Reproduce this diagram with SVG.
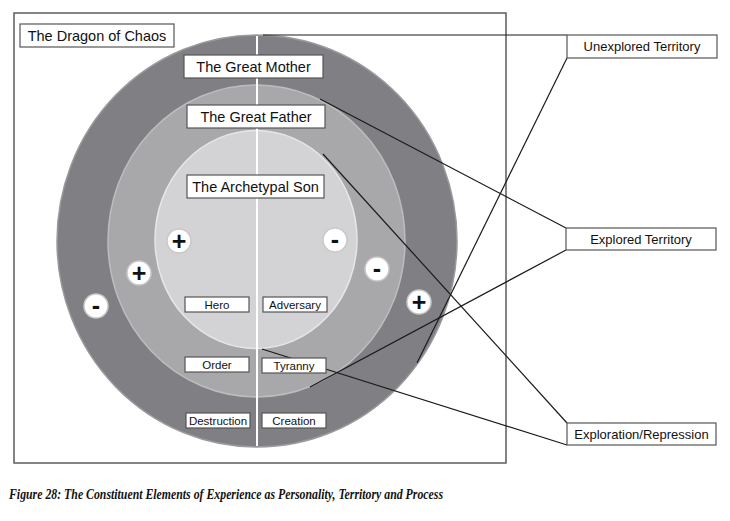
<svg xmlns="http://www.w3.org/2000/svg" width="730" height="521" viewBox="0 0 730 521">
<style>
.box{fill:#fff;stroke:#555;stroke-width:1.2}
.t{font-family:"Liberation Sans",Arial,sans-serif;fill:#111;text-anchor:middle}
.big{font-size:14.5px}
.mid{font-size:13px}
.sm{font-size:11.5px}
.pm{fill:#fff;stroke:#c8c8c8;stroke-width:1.5}
.sym{font-family:"Liberation Sans",Arial,sans-serif;font-weight:bold;font-size:25px;fill:#111;text-anchor:middle}
.con line{stroke:#1a1a1a;stroke-width:1.2}
</style>
<rect x="0" y="0" width="730" height="521" fill="#fff"/>
<rect id="frame" x="14" y="13" width="492" height="450" fill="#fff" stroke="#666" stroke-width="1.6"/>
<g id="rings">
<ellipse id="outer" cx="257" cy="241" rx="200" ry="206" fill="#808084" stroke="#9a9a9d" stroke-width="1.5"/>
<ellipse id="middle" cx="256.5" cy="241" rx="148.5" ry="156" fill="#a8a8ab" stroke="#bdbdc0" stroke-width="1.5"/>
<ellipse id="inner" cx="256" cy="239.5" rx="101" ry="109" fill="#d3d3d5" stroke="#e6e6e8" stroke-width="1.5"/>
<line x1="257" y1="36" x2="257" y2="446" stroke="#fff" stroke-width="2"/>
</g>
<g id="connectors" class="con">
<line x1="263" y1="35" x2="567" y2="35"/>
<line x1="567" y1="58" x2="417" y2="363"/>
<line x1="320" y1="99" x2="566" y2="228"/>
<line x1="566" y1="250" x2="310" y2="387"/>
<line x1="323" y1="154" x2="567" y2="423"/>
<line x1="262" y1="349" x2="567" y2="445"/>
</g>
<g id="signs">
<g id="s1"><circle class="pm" cx="179" cy="241" r="12"/><text class="sym" x="179" y="250">+</text></g>
<g id="s2"><circle class="pm" cx="335" cy="240" r="12"/><text class="sym" x="335" y="248">-</text></g>
<g id="s3"><circle class="pm" cx="139" cy="273" r="12"/><text class="sym" x="139" y="282">+</text></g>
<g id="s4"><circle class="pm" cx="96" cy="306" r="12"/><text class="sym" x="96" y="314">-</text></g>
<g id="s5"><circle class="pm" cx="377" cy="269" r="12"/><text class="sym" x="377" y="277">-</text></g>
<g id="s6"><circle class="pm" cx="419" cy="302" r="12"/><text class="sym" x="419" y="311">+</text></g>
</g>
<g id="dragon"><rect class="box" x="20" y="24" width="154" height="23"/><text class="t big" x="97" y="40.5">The Dragon of Chaos</text></g>
<g id="mother"><rect class="box" x="184" y="55" width="139" height="23"/><text class="t big" x="253.5" y="72">The Great Mother</text></g>
<g id="father"><rect class="box" x="187" y="105" width="138" height="23"/><text class="t big" x="256" y="122">The Great Father</text></g>
<g id="son"><rect class="box" x="187" y="175" width="137" height="23"/><text class="t big" x="255.5" y="192">The Archetypal Son</text></g>
<g id="hero"><rect class="box" x="185" y="297" width="64" height="15"/><text class="t sm" x="217" y="308.5">Hero</text></g>
<g id="adversary"><rect class="box" x="263" y="297" width="64" height="15"/><text class="t sm" x="295" y="308.5">Adversary</text></g>
<g id="order"><rect class="box" x="185" y="357" width="64" height="15"/><text class="t sm" x="217" y="368.5">Order</text></g>
<g id="tyranny"><rect class="box" x="262" y="358" width="64" height="15"/><text class="t sm" x="294" y="369.5">Tyranny</text></g>
<g id="destruction"><rect class="box" x="186" y="413" width="64" height="15"/><text class="t sm" x="218" y="424.5">Destruction</text></g>
<g id="creation"><rect class="box" x="262" y="413" width="64" height="15"/><text class="t sm" x="294" y="424.5">Creation</text></g>
<g id="unexplored"><rect class="box" x="567" y="35" width="150" height="23"/><text class="t mid" x="642" y="51">Unexplored Territory</text></g>
<g id="explored"><rect class="box" x="566" y="228" width="150" height="22"/><text class="t mid" x="641" y="243.5">Explored Territory</text></g>
<g id="exploration"><rect class="box" x="567" y="423" width="149" height="22"/><text class="t mid" x="641.5" y="439">Exploration/Repression</text></g>
<text id="caption" x="9" y="499" font-family="'Liberation Serif','Times New Roman',serif" font-weight="bold" font-style="italic" font-size="15" fill="#111" textLength="434" lengthAdjust="spacingAndGlyphs">Figure 28: The Constituent Elements of Experience as Personality, Territory and Process</text>
</svg>
